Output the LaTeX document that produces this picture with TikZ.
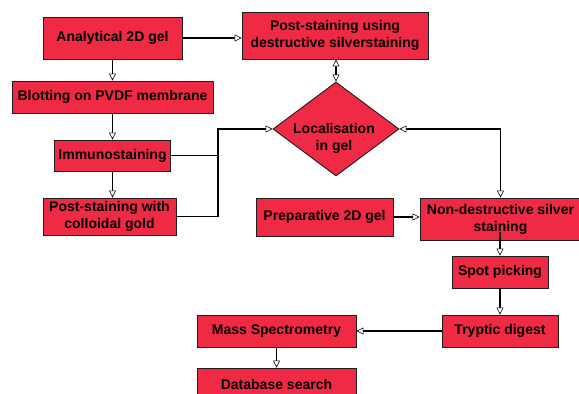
\documentclass[tikz,border=0pt]{standalone}
\usepackage{fontspec}
\setmainfont{Liberation Sans}
\usetikzlibrary{arrows.meta,shapes.geometric}
\definecolor{boxred}{RGB}{240,42,68}
\definecolor{edge}{RGB}{30,30,30}
\begin{document}
\begin{tikzpicture}[x=1pt,y=-1pt,
  box/.style={draw=edge,line width=0.9pt,fill=boxred,inner sep=0pt,align=center,
    font=\bfseries\fontsize{14}{17}\selectfont},
  flow/.style={line width=1.2pt,-{Triangle[fill=white,line width=0.6pt,length=7pt,width=7pt]}},
  both/.style={line width=1.2pt,{Triangle[fill=white,line width=0.6pt,length=7pt,width=7pt]}-{Triangle[fill=white,line width=0.6pt,length=7pt,width=7pt]}},
  plain/.style={line width=1.2pt}]
\clip (0,0) rectangle (579,394);
\fill[white] (0,0) rectangle (579,394);
\node[box,minimum width=139pt,minimum height=42pt] (ana) at (112.5,38) {Analytical 2D gel};
\node[box,minimum width=186pt,minimum height=47pt] (dest) at (335,35.5) {Post-staining using\\destructive silverstaining};
\node[box,minimum width=201pt,minimum height=32pt] (blot) at (112.5,97) {Blotting on PVDF membrane};
\node[box,minimum width=116pt,minimum height=31pt] (immu) at (112.5,155.5) {Immunostaining};
\node[box,minimum width=133pt,minimum height=37pt] (gold) at (109.5,216.5) {Post-staining with\\colloidal gold};
\node[draw=edge,line width=0.9pt,fill=boxred,shape=diamond,inner sep=0pt,minimum width=126pt,minimum height=94pt] (loc) at (336,129) {};
\node[box,draw=none,fill=none] (loctext) at (334,138) {Localisation\\in gel};
\node[box,minimum width=137pt,minimum height=38pt] (prep) at (324.5,217) {Preparative 2D gel};
\node[box,minimum width=161pt,minimum height=42pt] (nond) at (500.5,219) {Non-destructive silver\\staining};
\node[box,minimum width=96pt,minimum height=32pt] (spot) at (500,272) {Spot picking};
\node[box,minimum width=116pt,minimum height=32pt] (tryp) at (500,331) {Tryptic digest};
\node[box,minimum width=159pt,minimum height=32pt] (mass) at (276.5,331) {Mass Spectrometry};
\node[box,minimum width=159pt,minimum height=32pt] (db) at (276.5,384) {Database search};
\coordinate (jx) at (218,129);
\coordinate (ns) at (500,232);
\draw[flow] (ana.east) -- (ana.east -| dest.west);
\draw[flow] (ana.south) -- (blot.north);
\draw[flow] (blot.south) -- (blot.south |- immu.north);
\draw[flow] (immu.south) -- (immu.south |- gold.north);
\draw[plain] (immu.east) -- (immu.east -| jx);
\draw[flow] (gold.east) -| (jx) -- (loc.west);
\draw[both] (loc.north |- dest.south) -- (loc.north);
\draw[both] (loc.east) -| (nond.north);
\draw[flow] (prep.east) -- (prep.east -| nond.west);
\draw[flow] (ns) -- (ns |- spot.north);
\draw[flow] (spot.south) -- (tryp.north);
\draw[flow] (tryp.west) -- (mass.east);
\draw[flow] (mass.south) -- (db.north);
\end{tikzpicture}
\end{document}
